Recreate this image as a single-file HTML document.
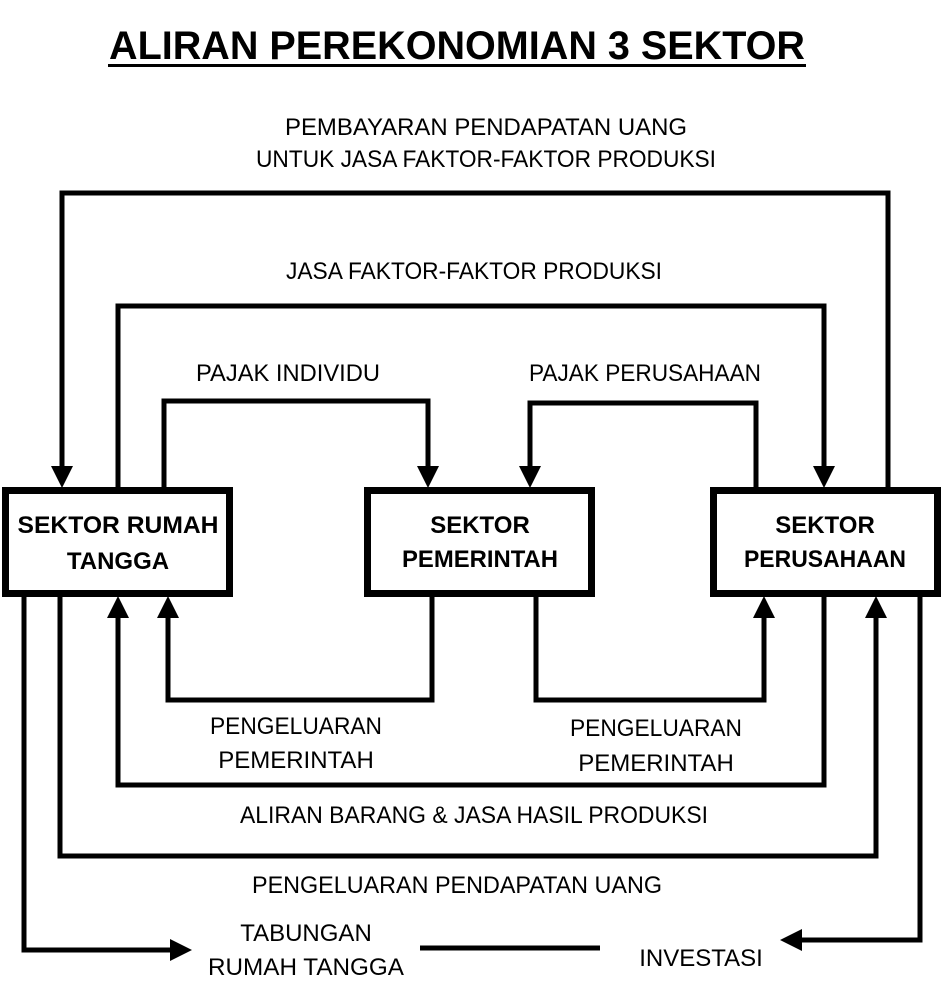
<!DOCTYPE html>
<html><head><style>
body{margin:0;background:#fff}
svg text{font-family:"Liberation Sans",sans-serif;font-size:24px;fill:#000}
.b{font-weight:bold}
</style></head><body>
<svg width="942" height="997" viewBox="0 0 942 997" xmlns="http://www.w3.org/2000/svg">
<text x="457" y="59" text-anchor="middle" class="b" style="font-size:40px" textLength="696" lengthAdjust="spacingAndGlyphs">ALIRAN PEREKONOMIAN 3 SEKTOR</text>
<rect x="108" y="64" width="698" height="3" fill="#000"/>
<g fill="none" stroke="#000" stroke-width="5">
<rect x="5.5" y="490.5" width="224" height="103" stroke-width="7"/>
<rect x="367.5" y="490.5" width="224" height="103" stroke-width="7"/>
<rect x="713.5" y="490.5" width="224" height="103" stroke-width="7"/>
<polyline points="62,468 62,193 888,193 888,487"/>
<polyline points="118,487 118,306 824,306 824,468"/>
<polyline points="164,487 164,401 428,401 428,468"/>
<polyline points="756,487 756,403 530,403 530,468"/>
<polyline points="432,597 432,700 168,700 168,616"/>
<polyline points="536,597 536,700 764,700 764,616"/>
<polyline points="824,597 824,785 118,785 118,616"/>
<polyline points="60,597 60,856 876,856 876,616"/>
<polyline points="24,597 24,950 172,950"/>
<polyline points="920,597 920,940 800,940"/>
<line x1="420" y1="948" x2="600" y2="948"/>
</g>
<g fill="#000">
<polygon points="51,466 73,466 62,488"/>
<polygon points="813,466 835,466 824,488"/>
<polygon points="417,466 439,466 428,488"/>
<polygon points="519,466 541,466 530,488"/>
<polygon points="157,618 179,618 168,596"/>
<polygon points="753,618 775,618 764,596"/>
<polygon points="107,618 129,618 118,596"/>
<polygon points="865,618 887,618 876,596"/>
<polygon points="170,939 170,961 192,950"/>
<polygon points="802,929 802,951 780,940"/>
</g>
<g text-anchor="middle">
<text x="486" y="135" textLength="402" lengthAdjust="spacingAndGlyphs">PEMBAYARAN PENDAPATAN UANG</text>
<text x="486" y="167" textLength="460" lengthAdjust="spacingAndGlyphs">UNTUK JASA FAKTOR-FAKTOR PRODUKSI</text>
<text x="474" y="279" textLength="376" lengthAdjust="spacingAndGlyphs">JASA FAKTOR-FAKTOR PRODUKSI</text>
<text x="288" y="381" textLength="184" lengthAdjust="spacingAndGlyphs">PAJAK INDIVIDU</text>
<text x="645" y="381" textLength="232" lengthAdjust="spacingAndGlyphs">PAJAK PERUSAHAAN</text>
<text class="b" x="118" y="533" textLength="201" lengthAdjust="spacingAndGlyphs">SEKTOR RUMAH</text>
<text class="b" x="118" y="569">TANGGA</text>
<text class="b" x="480" y="533">SEKTOR</text>
<text class="b" x="480" y="567" textLength="156" lengthAdjust="spacingAndGlyphs">PEMERINTAH</text>
<text class="b" x="825" y="533">SEKTOR</text>
<text class="b" x="825" y="567" textLength="162" lengthAdjust="spacingAndGlyphs">PERUSAHAAN</text>
<text x="296" y="734" textLength="172" lengthAdjust="spacingAndGlyphs">PENGELUARAN</text>
<text x="296" y="768">PEMERINTAH</text>
<text x="656" y="736" textLength="172" lengthAdjust="spacingAndGlyphs">PENGELUARAN</text>
<text x="656" y="771">PEMERINTAH</text>
<text x="474" y="823" textLength="468" lengthAdjust="spacingAndGlyphs">ALIRAN BARANG &amp; JASA HASIL PRODUKSI</text>
<text x="457" y="893" textLength="410" lengthAdjust="spacingAndGlyphs">PENGELUARAN PENDAPATAN UANG</text>
<text x="306" y="941">TABUNGAN</text>
<text x="306" y="975" textLength="196" lengthAdjust="spacingAndGlyphs">RUMAH TANGGA</text>
<text x="701" y="966">INVESTASI</text>
</g>
</svg>
</body></html>
